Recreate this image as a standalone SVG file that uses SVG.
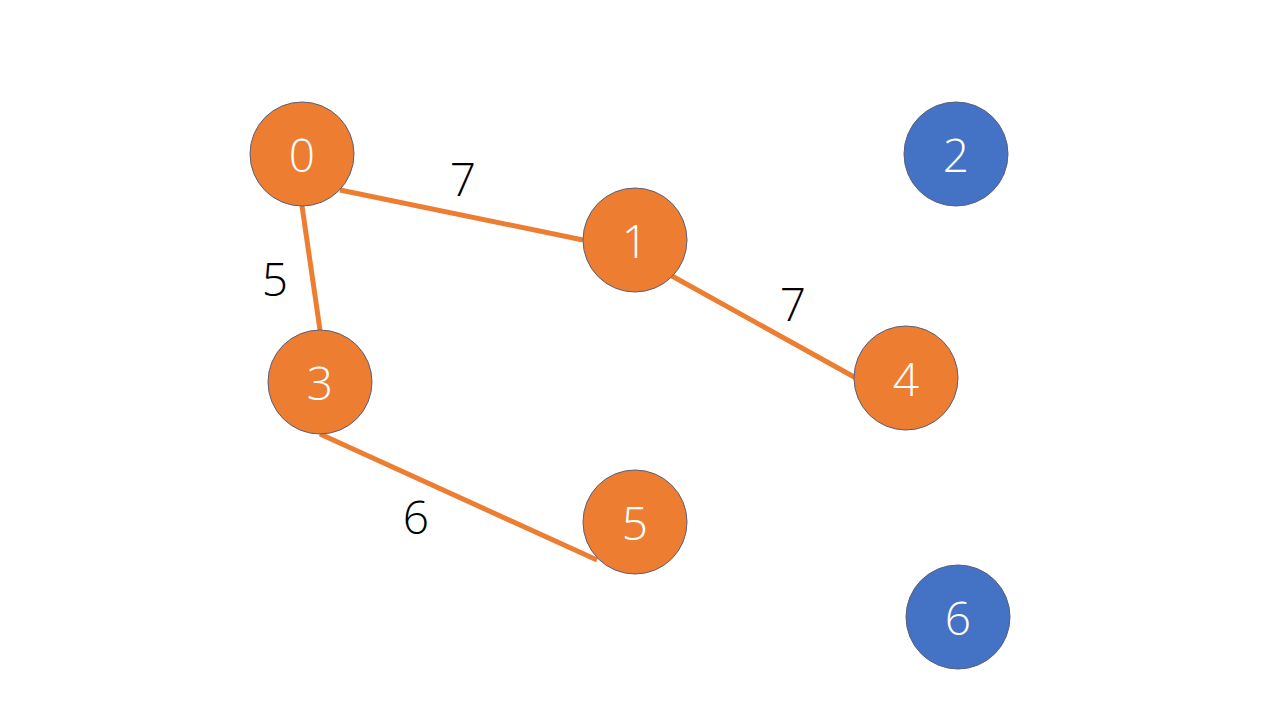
<svg xmlns="http://www.w3.org/2000/svg" width="1280" height="720" viewBox="0 0 1280 720">
<style>
.edge{stroke:#ED7D31;stroke-width:5;fill:none}
.n{stroke:#5a5f7a;stroke-width:1}
.o{fill:#ED7D31}
.b{fill:#4472C4}
.t{font-family:"Open Sans","Lato","Liberation Sans",sans-serif;font-weight:300;font-size:46px;fill:#fff;text-anchor:middle;dominant-baseline:central}
.lbl{font-family:"Open Sans","Lato","Liberation Sans",sans-serif;font-weight:300;font-size:46px;fill:#000;text-anchor:middle;dominant-baseline:central}
</style>
<rect width="1280" height="720" fill="#fff"/>
<g id="connectors">
<line class="edge" x1="340" y1="190" x2="583" y2="240"/>
<line class="edge" x1="302" y1="206" x2="320" y2="330"/>
<line class="edge" x1="672" y1="276" x2="856" y2="378"/>
<line class="edge" x1="320" y1="434" x2="597" y2="560"/>
<text class="lbl" x="463" y="178">7</text>
<text class="lbl" x="275" y="278">5</text>
<text class="lbl" x="793" y="303">7</text>
<text class="lbl" x="416" y="516">6</text>
</g>
<g id="node0"><circle class="n o" cx="302" cy="154" r="52"/><text class="t" x="302" y="154">0</text></g>
<g id="node1"><circle class="n o" cx="635" cy="240" r="52"/><text class="t" x="635" y="240">1</text></g>
<g id="node2"><circle class="n b" cx="956" cy="154" r="52"/><text class="t" x="956" y="154">2</text></g>
<g id="node3"><circle class="n o" cx="320" cy="382" r="52"/><text class="t" x="320" y="382">3</text></g>
<g id="node4"><circle class="n o" cx="906" cy="378" r="52"/><text class="t" x="906" y="378">4</text></g>
<g id="node5"><circle class="n o" cx="635" cy="522" r="52"/><text class="t" x="635" y="522">5</text></g>
<g id="node6"><circle class="n b" cx="958" cy="617" r="52"/><text class="t" x="958" y="617">6</text></g>
</svg>
